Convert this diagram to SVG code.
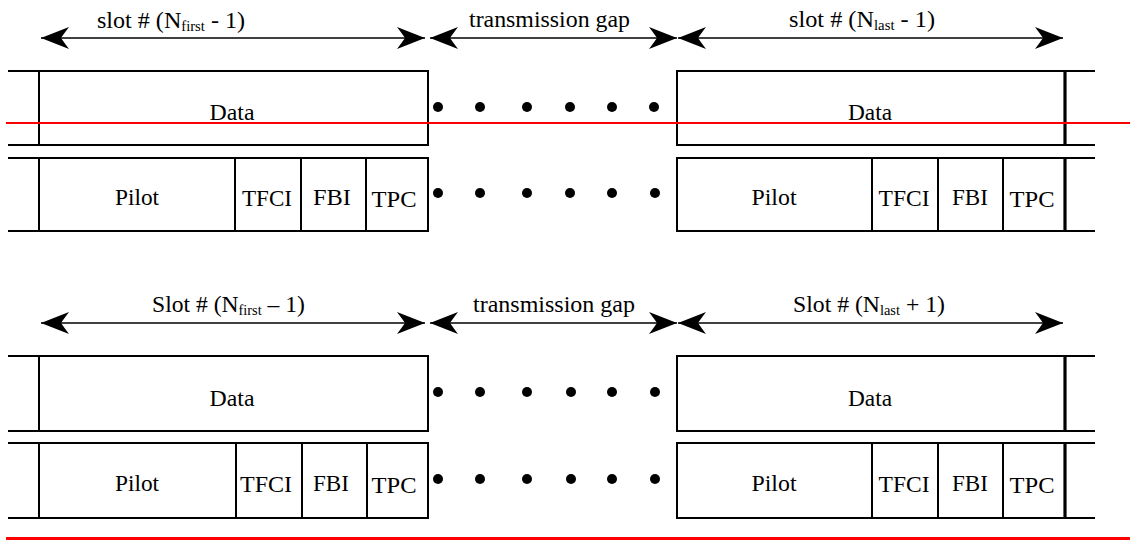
<svg xmlns="http://www.w3.org/2000/svg" width="1130" height="540" viewBox="0 0 1130 540">
<style>
text{font-family:"Liberation Serif","Times New Roman",serif;font-size:23px;fill:#000}
.c{text-anchor:middle}
.sub{font-size:14px}
.box{fill:#fff;stroke:#000;stroke-width:2}
.ln{stroke:#000;stroke-width:2;fill:none}
.thk{stroke:#000;stroke-width:3.2;fill:none}
.arr{stroke:#000;stroke-width:1.6;fill:none;marker-start:url(#ah);marker-end:url(#ah)}
.red{stroke:#f00;fill:none}
.dot{fill:#000}
</style>
<defs>
<marker id="ah" viewBox="-30 -12 32 24" refX="0" refY="0" markerWidth="32" markerHeight="24" markerUnits="userSpaceOnUse" orient="auto-start-reverse">
<path d="M0,0 L-28,-11 Q-22,-3 -20,0 Q-22,3 -28,11 Z" fill="#000"/>
</marker>
</defs>
<rect width="1130" height="540" fill="#fff"/>

<g id="connectors">
<line class="arr" x1="41" y1="38" x2="425" y2="38"/>
<line class="arr" x1="430" y1="38" x2="677" y2="38"/>
<line class="arr" x1="678" y1="38" x2="1063" y2="38"/>
<line class="arr" x1="41" y1="323" x2="425" y2="323"/>
<line class="arr" x1="430" y1="323" x2="677" y2="323"/>
<line class="arr" x1="678" y1="323" x2="1063" y2="323"/>
</g>

<g id="labels">
<text x="97" y="28" textLength="148" lengthAdjust="spacingAndGlyphs">slot # (N<tspan class="sub" dy="3">first</tspan><tspan dy="-3"> - 1)</tspan></text>
<text x="469" y="27" textLength="161" lengthAdjust="spacingAndGlyphs">transmission gap</text>
<text x="789" y="27" textLength="146" lengthAdjust="spacingAndGlyphs">slot # (N<tspan class="sub" dy="3">last</tspan><tspan dy="-3"> - 1)</tspan></text>
<text x="152" y="312" textLength="153" lengthAdjust="spacingAndGlyphs">Slot # (N<tspan class="sub" dy="3">first</tspan><tspan dy="-3"> – 1)</tspan></text>
<text x="473" y="312" textLength="162" lengthAdjust="spacingAndGlyphs">transmission gap</text>
<text x="793" y="312" textLength="152" lengthAdjust="spacingAndGlyphs">Slot # (N<tspan class="sub" dy="3">last</tspan><tspan dy="-3"> + 1)</tspan></text>
</g>

<!-- top section -->
<g id="top-left-data">
<line class="ln" x1="8" y1="71" x2="39" y2="71"/>
<line class="ln" x1="8" y1="145" x2="39" y2="145"/>
<rect class="box" x="39" y="71" width="389" height="74"/>
<text class="c" x="232" y="120" textLength="45" lengthAdjust="spacingAndGlyphs">Data</text>
</g>
<g id="top-left-ctrl">
<line class="ln" x1="8" y1="158" x2="39" y2="158"/>
<line class="ln" x1="8" y1="231" x2="39" y2="231"/>
<rect class="box" x="39" y="158" width="389" height="73"/>
<line class="ln" x1="235" y1="158" x2="235" y2="231"/>
<line class="ln" x1="301" y1="158" x2="301" y2="231"/>
<line class="ln" x1="366" y1="158" x2="366" y2="231"/>
<text class="c" x="137" y="205" textLength="44" lengthAdjust="spacingAndGlyphs">Pilot</text>
<text class="c" x="267" y="206" textLength="50" lengthAdjust="spacingAndGlyphs">TFCI</text>
<text class="c" x="332" y="205" textLength="38" lengthAdjust="spacingAndGlyphs">FBI</text>
<text class="c" x="394" y="207" textLength="45" lengthAdjust="spacingAndGlyphs">TPC</text>
</g>
<g id="top-right-data">
<rect class="box" x="677" y="71" width="388" height="74"/>
<line class="thk" x1="1065" y1="70" x2="1065" y2="146"/>
<line class="ln" x1="1065" y1="71" x2="1095" y2="71"/>
<line class="ln" x1="1065" y1="145" x2="1095" y2="145"/>
<text class="c" x="870" y="120" textLength="44" lengthAdjust="spacingAndGlyphs">Data</text>
</g>
<g id="top-right-ctrl">
<rect class="box" x="677" y="158" width="388" height="73"/>
<line class="thk" x1="1065" y1="157" x2="1065" y2="232"/>
<line class="ln" x1="1065" y1="158" x2="1095" y2="158"/>
<line class="ln" x1="1065" y1="231" x2="1095" y2="231"/>
<line class="ln" x1="872" y1="158" x2="872" y2="231"/>
<line class="ln" x1="938" y1="158" x2="938" y2="231"/>
<line class="ln" x1="1003" y1="158" x2="1003" y2="231"/>
<text class="c" x="774" y="205" textLength="45" lengthAdjust="spacingAndGlyphs">Pilot</text>
<text class="c" x="904" y="206" textLength="51" lengthAdjust="spacingAndGlyphs">TFCI</text>
<text class="c" x="970" y="205" textLength="36" lengthAdjust="spacingAndGlyphs">FBI</text>
<text class="c" x="1032" y="207" textLength="45" lengthAdjust="spacingAndGlyphs">TPC</text>
</g>
<g id="top-dots">
<circle class="dot" cx="438" cy="107" r="5"/>
<circle class="dot" cx="480" cy="107" r="5"/>
<circle class="dot" cx="527" cy="107" r="5"/>
<circle class="dot" cx="570" cy="107" r="5"/>
<circle class="dot" cx="612" cy="107" r="5"/>
<circle class="dot" cx="654" cy="107" r="5"/>
<circle class="dot" cx="438" cy="193" r="5"/>
<circle class="dot" cx="480" cy="193" r="5"/>
<circle class="dot" cx="527" cy="193" r="5"/>
<circle class="dot" cx="570" cy="193" r="5"/>
<circle class="dot" cx="612" cy="193" r="5"/>
<circle class="dot" cx="655" cy="193" r="5"/>
</g>

<!-- bottom section -->
<g id="bottom-left-data">
<line class="ln" x1="8" y1="356" x2="39" y2="356"/>
<line class="ln" x1="8" y1="431" x2="39" y2="431"/>
<rect class="box" x="39" y="356" width="389" height="75"/>
<text class="c" x="232" y="406" textLength="45" lengthAdjust="spacingAndGlyphs">Data</text>
</g>
<g id="bottom-left-ctrl">
<line class="ln" x1="8" y1="443" x2="39" y2="443"/>
<line class="ln" x1="8" y1="518" x2="39" y2="518"/>
<rect class="box" x="39" y="443" width="389" height="75"/>
<line class="ln" x1="236" y1="443" x2="236" y2="518"/>
<line class="ln" x1="302" y1="443" x2="302" y2="518"/>
<line class="ln" x1="367" y1="443" x2="367" y2="518"/>
<text class="c" x="137" y="491" textLength="44" lengthAdjust="spacingAndGlyphs">Pilot</text>
<text class="c" x="266" y="492" textLength="52" lengthAdjust="spacingAndGlyphs">TFCI</text>
<text class="c" x="331" y="491" textLength="36" lengthAdjust="spacingAndGlyphs">FBI</text>
<text class="c" x="394" y="493" textLength="45" lengthAdjust="spacingAndGlyphs">TPC</text>
</g>
<g id="bottom-right-data">
<rect class="box" x="677" y="356" width="388" height="75"/>
<line class="thk" x1="1065" y1="355" x2="1065" y2="432"/>
<line class="ln" x1="1065" y1="356" x2="1095" y2="356"/>
<line class="ln" x1="1065" y1="431" x2="1095" y2="431"/>
<text class="c" x="870" y="406" textLength="44" lengthAdjust="spacingAndGlyphs">Data</text>
</g>
<g id="bottom-right-ctrl">
<rect class="box" x="677" y="443" width="388" height="75"/>
<line class="thk" x1="1065" y1="442" x2="1065" y2="519"/>
<line class="ln" x1="1065" y1="443" x2="1095" y2="443"/>
<line class="ln" x1="1065" y1="518" x2="1095" y2="518"/>
<line class="ln" x1="872" y1="443" x2="872" y2="518"/>
<line class="ln" x1="938" y1="443" x2="938" y2="518"/>
<line class="ln" x1="1003" y1="443" x2="1003" y2="518"/>
<text class="c" x="774" y="491" textLength="45" lengthAdjust="spacingAndGlyphs">Pilot</text>
<text class="c" x="904" y="492" textLength="51" lengthAdjust="spacingAndGlyphs">TFCI</text>
<text class="c" x="970" y="491" textLength="36" lengthAdjust="spacingAndGlyphs">FBI</text>
<text class="c" x="1032" y="493" textLength="45" lengthAdjust="spacingAndGlyphs">TPC</text>
</g>
<g id="bottom-dots">
<circle class="dot" cx="438" cy="392" r="5"/>
<circle class="dot" cx="480" cy="392" r="5"/>
<circle class="dot" cx="527" cy="392" r="5"/>
<circle class="dot" cx="571" cy="392" r="5"/>
<circle class="dot" cx="612" cy="392" r="5"/>
<circle class="dot" cx="655" cy="392" r="5"/>
<circle class="dot" cx="438" cy="479" r="5"/>
<circle class="dot" cx="480" cy="479" r="5"/>
<circle class="dot" cx="527" cy="479" r="5"/>
<circle class="dot" cx="571" cy="479" r="5"/>
<circle class="dot" cx="612" cy="479" r="5"/>
<circle class="dot" cx="655" cy="479" r="5"/>
</g>

<g id="red-lines">
<line class="red" x1="6" y1="123" x2="1130" y2="123" stroke-width="2"/>
<line class="red" x1="6" y1="538.5" x2="1130" y2="538.5" stroke-width="3"/>
</g>
</svg>
